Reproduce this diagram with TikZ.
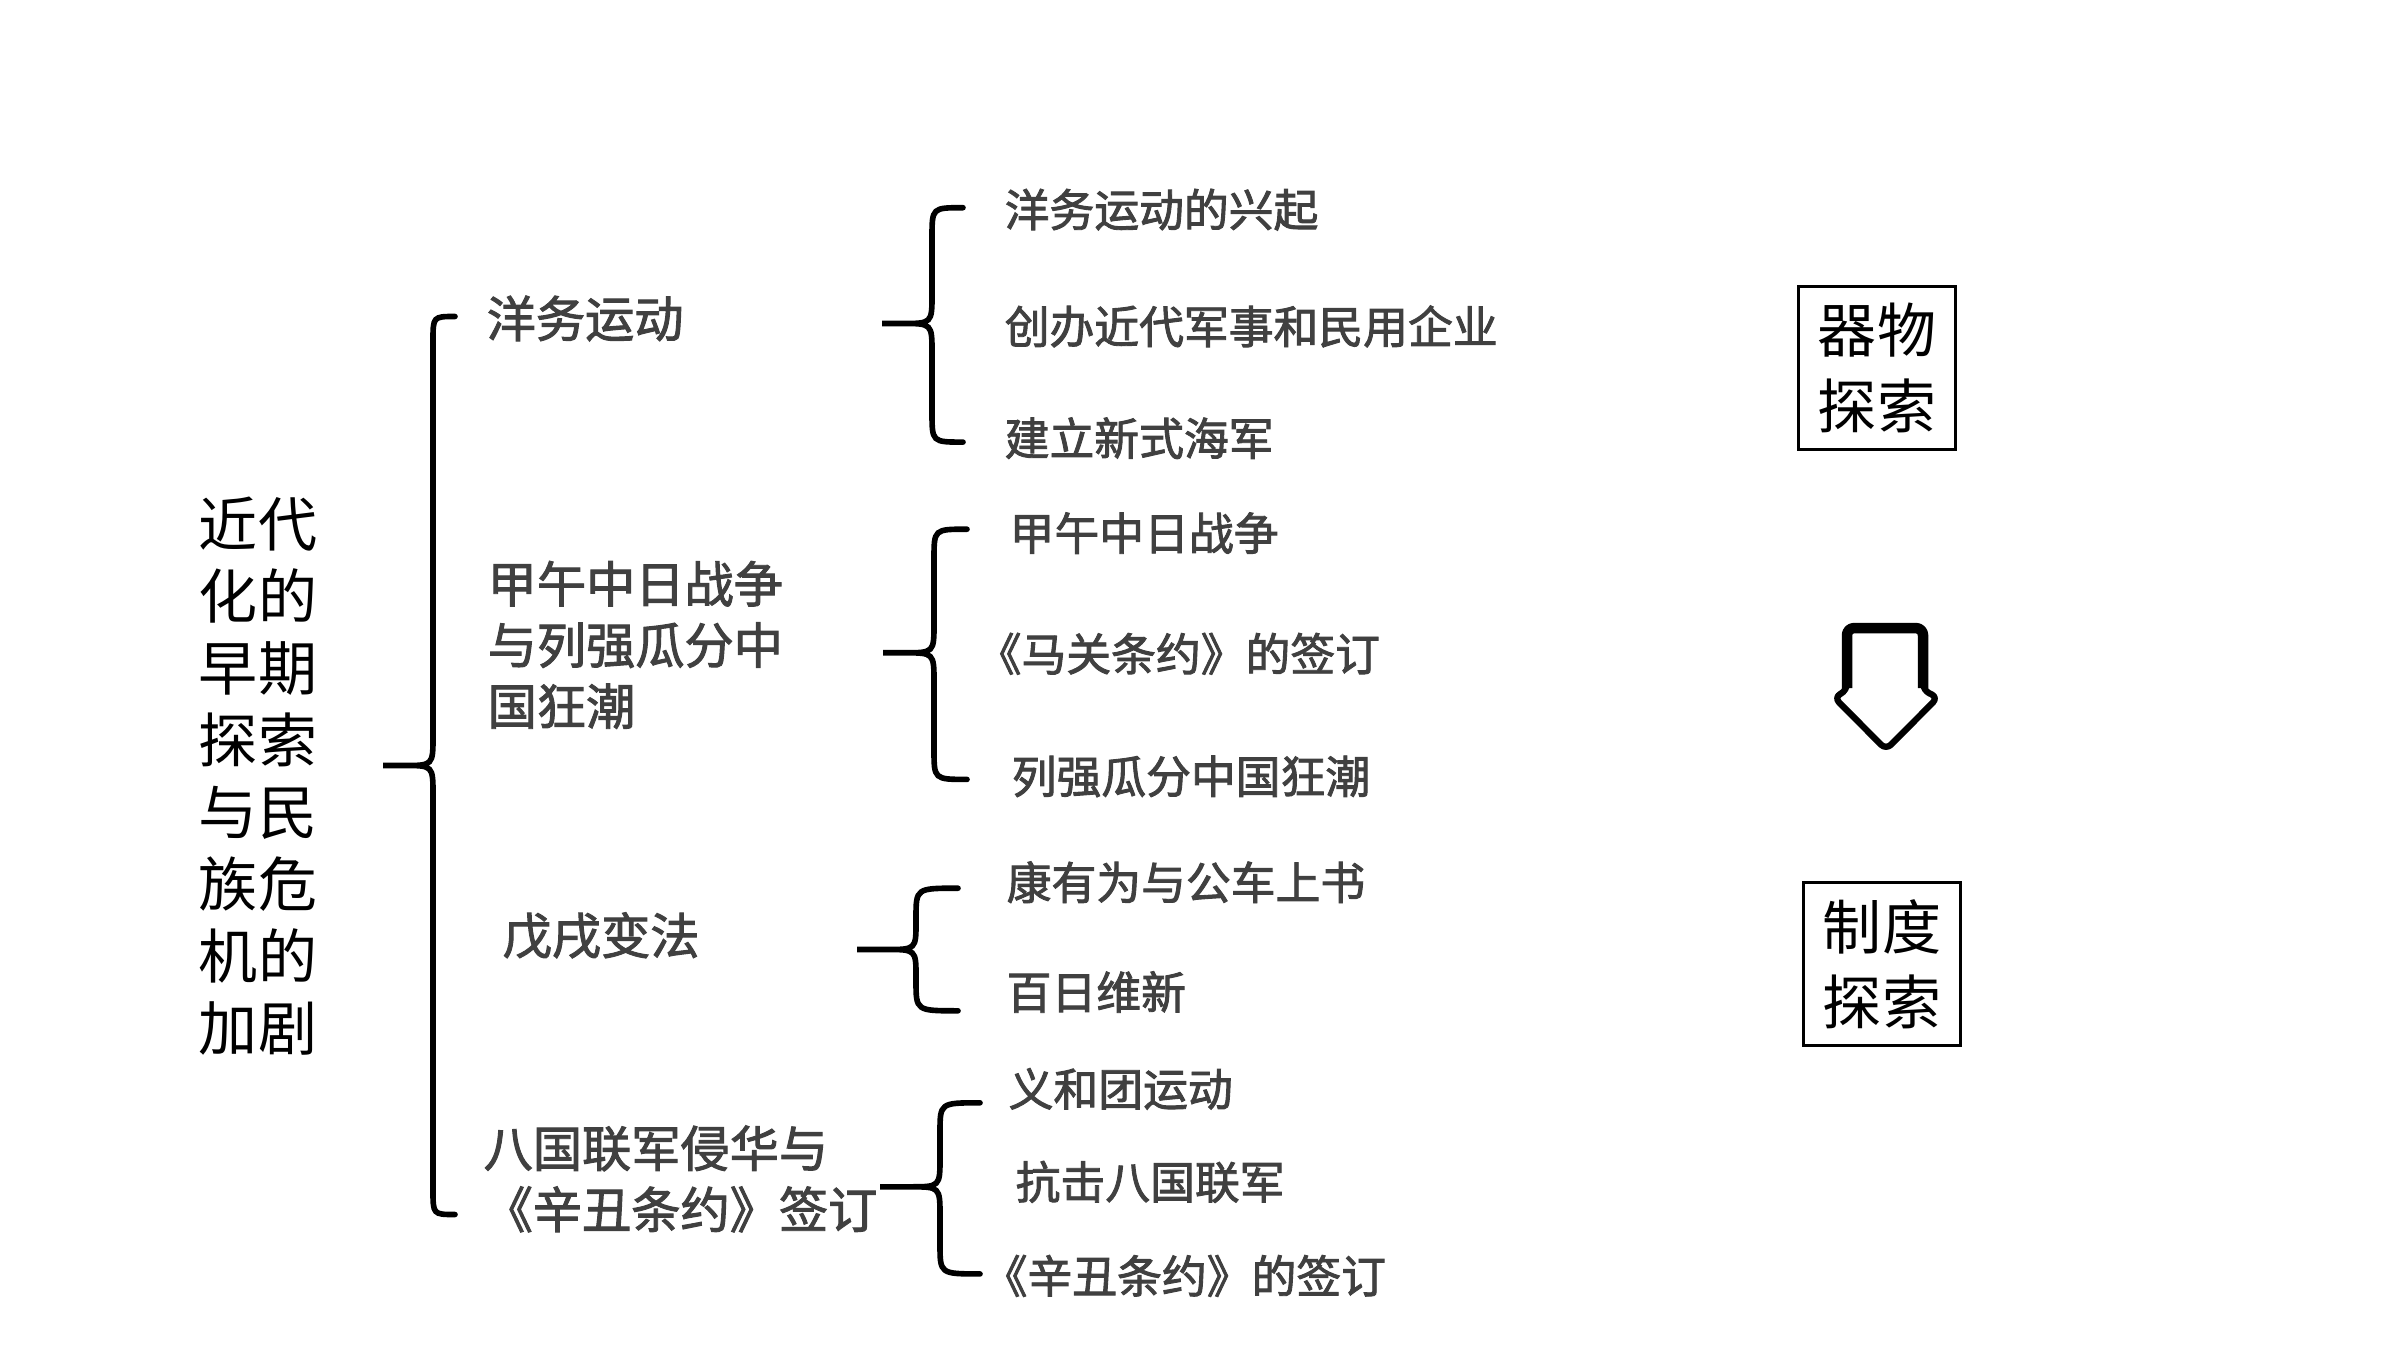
\documentclass[tikz,border=0pt]{standalone}
\usepackage{fontspec}
\setmainfont{Noto Sans CJK SC}
\newfontfamily\heavycjk[FakeBold=2]{Noto Sans CJK SC}
\usepackage{tikz}
\usepackage{xcolor}
\usetikzlibrary{positioning}
\definecolor{textgray}{RGB}{64, 64, 64}
\tikzstyle{brace} = [
    line width=1.6pt,
    line cap=round,
    draw=black
]
\tikzstyle{topic} = [
    anchor=west,
    inner sep=0pt,
    align=left,
    text=textgray,
    font=\heavycjk\fontsize{14}{17.4}\selectfont
]
\tikzstyle{point} = [
    anchor=west,
    inner sep=0pt,
    text=textgray,
    font=\heavycjk\fontsize{12.75}{15}\selectfont
]
\tikzstyle{stage} = [
    rectangle,
    draw=black,
    line width=0.8pt,
    minimum width=1.57cm,
    minimum height=1.63cm,
    align=center,
    font=\fontsize{16.8}{21.4}\selectfont
]
\begin{document}
\begin{tikzpicture}
    \useasboundingbox (0,0) rectangle (24,13.5);

    % Title
    \node[align=center, inner sep=0pt, font=\fontsize{16.8}{20.5}\selectfont] (title) at (2.58,5.74)
        {近代\\化的\\早期\\探索\\与民\\族危\\机的\\加剧};

    % Main brace
    \draw[brace] (4.55,10.335) .. controls (4.33,10.335) .. (4.33,10.088) -- (4.33,6.141)
        .. controls (4.33,5.845) .. (4.04,5.845) -- (3.83,5.845) -- (4.04,5.845)
        .. controls (4.33,5.845) .. (4.33,5.548) -- (4.33,1.602)
        .. controls (4.33,1.355) .. (4.55,1.355);

    % Topics
    \node[topic] (yangwu) at (4.86,10.315) {洋务运动};
    \node[topic] (jiawu) at (4.87,7.051) {甲午中日战争\\与列强瓜分中\\国狂潮};
    \node[topic] (wuxu) at (5.02,4.144) {戊戌变法};
    \node[topic] (baguo) at (4.83,1.711) {八国联军侵华与\\《辛丑条约》签订};

    % Sub braces
    \draw[brace] (9.63,11.423) .. controls (9.32,11.423) .. (9.32,11.126) -- (9.32,10.562)
        .. controls (9.32,10.265) .. (9.02,10.265) -- (8.82,10.265) -- (9.02,10.265)
        .. controls (9.32,10.265) .. (9.32,9.969) -- (9.32,9.376)
        .. controls (9.32,9.079) .. (9.63,9.079);
    \draw[brace] (9.67,8.208) .. controls (9.34,8.208) .. (9.34,7.912) -- (9.34,7.269)
        .. controls (9.34,6.972) .. (9.04,6.972) -- (8.83,6.972) -- (9.04,6.972)
        .. controls (9.34,6.972) .. (9.34,6.675) -- (9.34,6.003)
        .. controls (9.34,5.706) .. (9.67,5.706);
    \draw[brace] (9.58,4.618) .. controls (9.16,4.618) .. (9.16,4.322) -- (9.16,4.282)
        .. controls (9.16,4.005) .. (8.86,4.005) -- (8.57,4.005) -- (8.86,4.005)
        .. controls (9.16,4.005) .. (9.16,3.728) -- (9.16,3.689)
        .. controls (9.16,3.392) .. (9.58,3.392);
    \draw[brace] (9.80,2.472) .. controls (9.40,2.472) .. (9.40,2.175) -- (9.40,1.928)
        .. controls (9.40,1.632) .. (9.10,1.632) -- (8.80,1.632) -- (9.10,1.632)
        .. controls (9.40,1.632) .. (9.40,1.335) -- (9.40,1.058)
        .. controls (9.40,0.761) .. (9.80,0.761);

    % Points
    \node[point] (yw1) at (10.04,11.403) {洋务运动的兴起};
    \node[point] (yw2) at (10.04,10.236) {创办近代军事和民用企业};
    \node[point] (yw3) at (10.04,9.118) {建立新式海军};
    \node[point] (jw1) at (10.09,8.169) {甲午中日战争};
    \node[point] (jw2) at (9.76,6.962) {《马关条约》的签订};
    \node[point] (jw3) at (10.11,5.736) {列强瓜分中国狂潮};
    \node[point] (wx1) at (10.06,4.678) {康有为与公车上书};
    \node[point] (wx2) at (10.06,3.580) {百日维新};
    \node[point] (bg1) at (10.08,2.611) {义和团运动};
    \node[point] (bg2) at (10.15,1.681) {抗击八国联军};
    \node[point] (bg3) at (9.82,0.741) {《辛丑条约》的签订};

    % Stages
    \node[stage] (qiwu) at (18.77,9.82) {器物\\探索};
    \node[stage] (zhidu) at (18.82,3.857) {制度\\探索};

    % Down arrow
    \draw[line width=1.8pt, line join=round, rounded corners=2pt]
        (18.47,6.596) -- (18.47,7.219) -- (19.23,7.219) -- (19.23,6.596) -- (19.38,6.527)
        -- (18.86,6.003) -- (18.34,6.527) -- cycle;
    \draw[line width=3pt, line join=round, rounded corners=2pt]
        (18.47,6.62) -- (18.47,7.219) -- (19.23,7.219) -- (19.23,6.62);
\end{tikzpicture}
\end{document}
